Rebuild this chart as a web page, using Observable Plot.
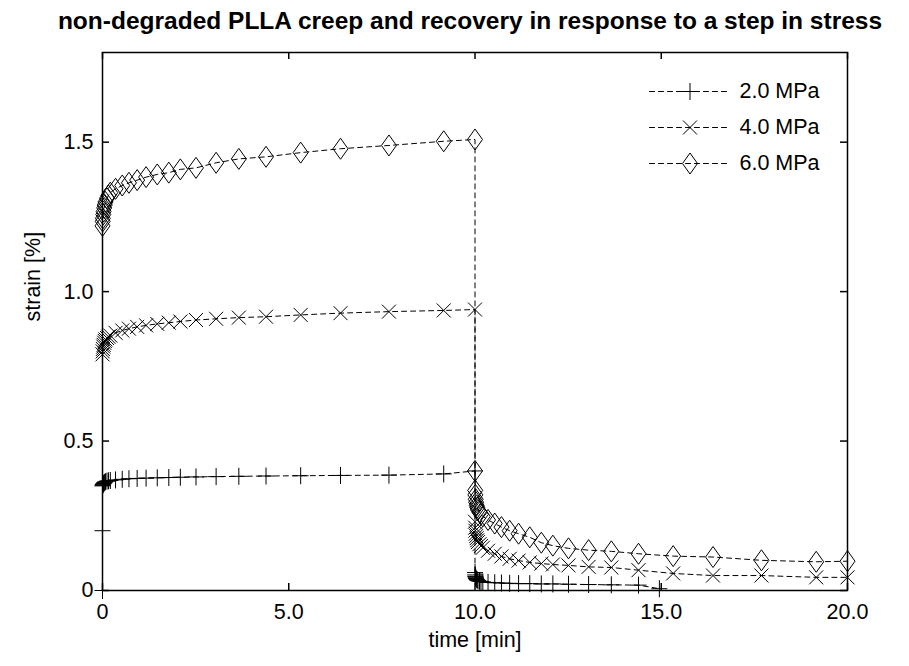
<!DOCTYPE html>
<html>
<head>
<meta charset="utf-8">
<script src="https://cdn.jsdelivr.net/npm/d3@7"></script>
<script src="https://cdn.jsdelivr.net/npm/@observablehq/plot@0.6"></script>
<style>
  html, body { margin: 0; padding: 0; background: #fff; }
  #wrap { position: relative; width: 909px; height: 666px; overflow: hidden; }
  #title { height: 42px; box-sizing: border-box; padding-top: 9px; padding-left: 31px; width: 909px;
           text-align: center; font: bold 24.5px "Liberation Sans", Arial, sans-serif; line-height: 1; color: #000; white-space: nowrap; }
  #legend { position: absolute; left: 630px; top: 60px; }
</style>
</head>
<body>
<div id="wrap">
  <div id="title">non-degraded PLLA creep and recovery in response to a step in stress</div>
  <div id="chart"></div>
  <div id="legend"></div>
</div>
<script>
// ---- data ----
const seriesNames = ["2.0 MPa", "4.0 MPa", "6.0 MPa"];
const xTicks = [0, 5, 10, 15, 20];
const yTicks = [0, 0.5, 1.0, 1.5];

// loading onset for 2.0 MPa
const load2T = [0, 0];
const load2S = [0, 0.2];

// creep phase times (min)
const creepT = [0, 0.005, 0.01, 0.02, 0.03, 0.045, 0.06, 0.08, 0.12, 0.16, 0.21, 0.35, 0.53, 0.71, 0.93, 1.17, 1.47, 1.78, 2.09, 2.51, 3.05, 3.66, 4.39, 5.32, 6.39, 7.69, 9.16, 10.0];
const creep2 = [0.350, 0.352, 0.354, 0.356, 0.358, 0.360, 0.362, 0.364, 0.366, 0.367, 0.368, 0.370, 0.372, 0.374, 0.375, 0.376, 0.377, 0.378, 0.379, 0.380, 0.381, 0.382, 0.383, 0.384, 0.385, 0.386, 0.390, 0.400];
const creep4 = [0.79, 0.80, 0.808, 0.816, 0.822, 0.829, 0.835, 0.840, 0.845, 0.849, 0.853, 0.862, 0.870, 0.876, 0.882, 0.887, 0.892, 0.896, 0.900, 0.905, 0.909, 0.913, 0.916, 0.922, 0.928, 0.933, 0.937, 0.940];
const creep6 = [1.22, 1.235, 1.245, 1.258, 1.268, 1.280, 1.290, 1.300, 1.312, 1.322, 1.331, 1.344, 1.355, 1.364, 1.373, 1.383, 1.392, 1.398, 1.409, 1.414, 1.431, 1.444, 1.451, 1.465, 1.478, 1.489, 1.503, 1.509];

// recovery phase times (min)
const recT = [10.0, 10.005, 10.01, 10.02, 10.03, 10.045, 10.06, 10.08, 10.12, 10.16, 10.21, 10.35, 10.53, 10.71, 10.93, 11.17, 11.47, 11.78, 12.09, 12.51, 13.05, 13.66, 14.39, 15.32, 16.39, 17.69, 19.16, 20.0];
const rec4 = [0.230, 0.210, 0.200, 0.190, 0.182, 0.175, 0.168, 0.162, 0.155, 0.149, 0.143, 0.133, 0.123, 0.114, 0.106, 0.100, 0.094, 0.090, 0.087, 0.084, 0.079, 0.077, 0.068, 0.057, 0.050, 0.050, 0.044, 0.044];
const rec6 = [0.400, 0.335, 0.320, 0.305, 0.295, 0.285, 0.278, 0.270, 0.262, 0.255, 0.248, 0.236, 0.224, 0.212, 0.200, 0.190, 0.178, 0.160, 0.150, 0.141, 0.135, 0.131, 0.123, 0.115, 0.112, 0.101, 0.096, 0.098];
const rec2T = [10.0, 10.005, 10.01, 10.02, 10.03, 10.045, 10.06, 10.08, 10.12, 10.16, 10.21, 10.35, 10.53, 10.71, 10.93, 11.17, 11.47, 11.78, 12.09, 12.51, 13.05, 13.66, 14.39, 14.95];
const rec2 = [0.060, 0.052, 0.047, 0.043, 0.040, 0.037, 0.035, 0.033, 0.031, 0.030, 0.029, 0.027, 0.026, 0.025, 0.024, 0.023, 0.023, 0.022, 0.022, 0.021, 0.020, 0.019, 0.018, 0.006];

// ---- build tables ----
const pts = (T, S) => T.map((t, i) => ({t, s: S[i]}));
const data2 = [...pts(load2T, load2S), ...pts(creepT, creep2), ...pts(rec2T, rec2)];
const data4 = [...pts(creepT, creep4), ...pts(recT, rec4)];
const data6 = [...pts(creepT, creep6), ...pts(recT, rec6)];

const labelFont = "'Liberation Sans', Arial, sans-serif";
const fs = 21.5;

// ---- marker symbols (MATLAB-like, hollow) ----
const kOf = size => Math.sqrt(size / Math.PI);
const plusSym = {draw(c, size) { const k = kOf(size);
  c.moveTo(-8 * k, 0); c.lineTo(8 * k, 0); c.moveTo(0, -8.5 * k); c.lineTo(0, 8.5 * k); }};
const timesSym = {draw(c, size) { const k = kOf(size);
  c.moveTo(-7 * k, -7 * k); c.lineTo(7 * k, 7 * k); c.moveTo(-7 * k, 7 * k); c.lineTo(7 * k, -7 * k); }};
const diamondSym = {draw(c, size) { const k = kOf(size);
  c.moveTo(0, -10.5 * k); c.lineTo(7.5 * k, 0); c.lineTo(0, 10.5 * k); c.lineTo(-7.5 * k, 0); c.closePath(); }};

const seriesList = [
  {name: seriesNames[0], data: data2, symbol: plusSym},
  {name: seriesNames[1], data: data4, symbol: timesSym},
  {name: seriesNames[2], data: data6, symbol: diamondSym}
];

const W = 909, H = 624, mL = 102, mR = 62, mT = 10, mB = 76;
const plotW = W - mL - mR, plotH = H - mT - mB;
const dash = "5,4";
const fmt = d => d === 0 ? "0" : d.toFixed(1);

const marks = [];
for (const s of seriesList) {
  marks.push(Plot.line(s.data, {x: "t", y: "s", stroke: "black", strokeWidth: 1, strokeDasharray: dash}));
}
for (const s of seriesList) {
  marks.push(Plot.dot(s.data, {x: "t", y: "s", symbol: s.symbol, r: 1, stroke: "black", fill: "none", strokeWidth: 1}));
}
marks.push(
  Plot.frame({stroke: "black", strokeWidth: 1.5}),
  Plot.tickX(xTicks, {x: d => d, insetTop: plotH - 7, stroke: "black", strokeWidth: 1.5}),
  Plot.tickX(xTicks, {x: d => d, insetBottom: plotH - 7, stroke: "black", strokeWidth: 1.5}),
  Plot.tickY(yTicks, {y: d => d, insetRight: plotW - 7, stroke: "black", strokeWidth: 1.5}),
  Plot.tickY(yTicks, {y: d => d, insetLeft: plotW - 7, stroke: "black", strokeWidth: 1.5}),
  Plot.axisX(xTicks, {tickSize: 0, tickPadding: 13, tickFormat: fmt, label: null, fontSize: fs}),
  Plot.axisY(yTicks, {tickSize: 0, tickPadding: 9, tickFormat: fmt, label: null, fontSize: fs}),
  Plot.text(["time [min]"], {text: d => d, frameAnchor: "bottom", dy: 56, fontSize: fs}),
  Plot.text(["strain [%]"], {text: d => d, frameAnchor: "left", rotate: -90, dx: -69, fontSize: fs})
);

const chart = Plot.plot({
  width: W, height: H,
  marginLeft: mL, marginRight: mR, marginTop: mT, marginBottom: mB,
  x: {domain: [0, 20], axis: null},
  y: {domain: [0, 1.8], axis: null},
  style: {fontFamily: labelFont, fontSize: fs + "px", background: "white", color: "black", overflow: "visible"},
  marks
});
document.getElementById("chart").appendChild(chart);

// ---- legend (separate small Plot overlaid in the upper right) ----
const legendSegs = seriesNames.flatMap(n => [{n, x: 0}, {n, x: 1}]);
const legendMarks = [
  Plot.line(legendSegs, {x: "x", y: "n", z: "n", stroke: "black", strokeWidth: 1, strokeDasharray: dash})
];
seriesList.forEach(s => {
  legendMarks.push(Plot.dot([s.name], {x: () => 0.5, y: d => d, symbol: s.symbol, r: 1, stroke: "black", fill: "none", strokeWidth: 1}));
});
legendMarks.push(Plot.text(seriesNames, {x: () => 1, y: d => d, text: d => d, dx: 9, textAnchor: "start", fontSize: fs}));
const legend = Plot.plot({
  width: 250, height: 130, margin: 0,
  x: {domain: [0, 1], range: [19, 100], axis: null},
  y: {type: "point", domain: seriesNames, range: [30, 103], padding: 0, axis: null},
  style: {fontFamily: labelFont, fontSize: fs + "px", background: "transparent", color: "black", overflow: "visible"},
  marks: legendMarks
});
document.getElementById("legend").appendChild(legend);
</script>
</body>
</html>
